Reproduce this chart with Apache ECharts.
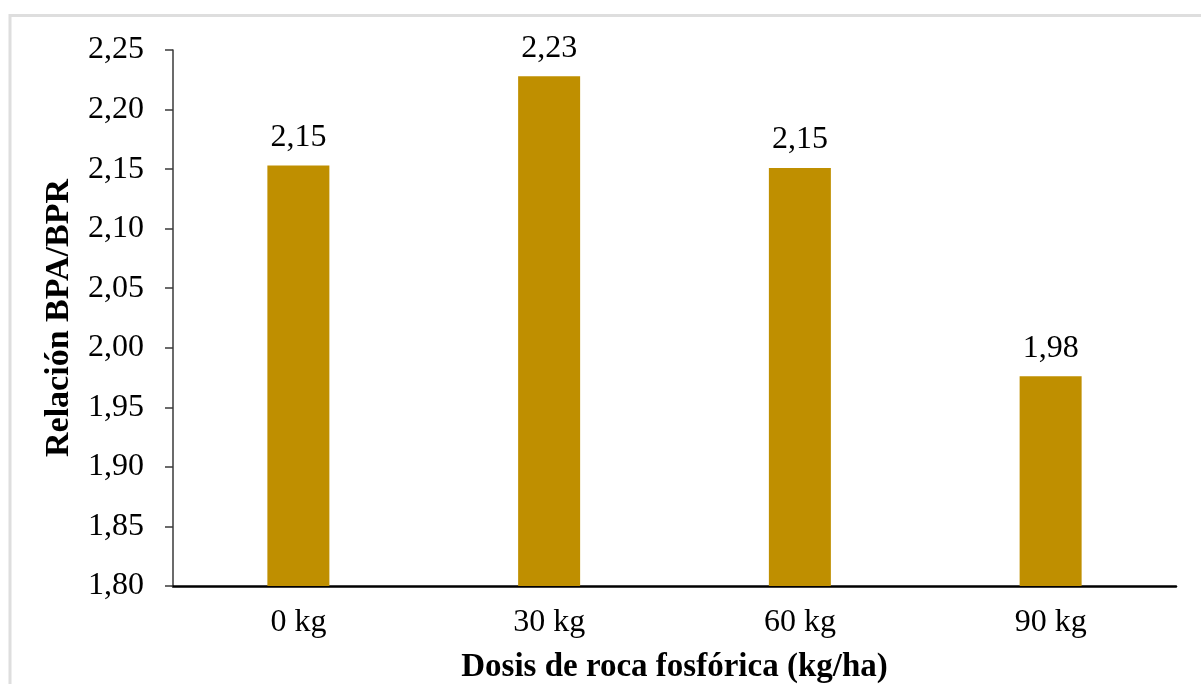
<!DOCTYPE html>
<html>
<head>
<meta charset="utf-8">
<script src="https://cdn.jsdelivr.net/npm/echarts@6/dist/echarts.min.js"></script>
<style>
html,body{margin:0;padding:0;background:#fff;overflow:hidden;}
#chart{width:1201px;height:684px;}
</style>
</head>
<body>
<div id="chart"></div>
<script>
const categories = ['0 kg', '30 kg', '60 kg', '90 kg'];
const values = [2.153, 2.228, 2.151, 1.976];
const yMin = 1.80, yMax = 2.25, yStep = 0.05;
const yTitle = 'Relación BPA/BPR';
const xTitle = 'Dosis de roca fosfórica (kg/ha)';

const fmt = v => v.toFixed(2).replace('.', ',');
const serif = '"Liberation Serif", "Times New Roman", serif';

const chart = echarts.init(document.getElementById('chart'), null, {renderer: 'canvas'});
chart.setOption({
  animation: false,
  backgroundColor: '#ffffff',
  graphic: [{
    type: 'rect',
    shape: {x: 10, y: 15.5, width: 1400, height: 900},
    style: {fill: 'none', stroke: '#dedede', lineWidth: 3},
    silent: true, z: -1
  }],
  grid: {left: 173, right: 25, top: 50, bottom: 98, containLabel: false, outerBoundsMode: 'none'},
  xAxis: {
    type: 'category',
    data: categories,
    name: xTitle,
    nameLocation: 'middle',
    nameGap: 65,
    nameTextStyle: {fontFamily: serif, fontWeight: 'bold', fontSize: 33, color: '#000'},
    axisLine: {lineStyle: {color: '#000', width: 2.5}},
    axisTick: {show: false},
    axisLabel: {fontFamily: serif, fontSize: 32, color: '#000', margin: 21}
  },
  yAxis: {
    type: 'value',
    min: yMin, max: yMax, interval: yStep,
    name: yTitle,
    nameLocation: 'middle',
    nameGap: 97,
    nameRotate: 90,
    nameTextStyle: {fontFamily: serif, fontWeight: 'bold', fontSize: 34, color: '#000'},
    axisLine: {show: true, lineStyle: {color: '#3a3a3a', width: 1.5}},
    axisTick: {show: true, inside: false, length: 8, lineStyle: {color: '#3a3a3a', width: 1.5}},
    splitLine: {show: false},
    axisLabel: {fontFamily: serif, fontSize: 32, color: '#000', margin: 29, formatter: v => fmt(v)}
  },
  series: [{
    type: 'bar',
    data: values,
    barWidth: 62,
    itemStyle: {color: '#BF8F00'},
    label: {
      show: true, position: 'top', distance: 12,
      fontFamily: serif, fontSize: 32, color: '#000',
      formatter: p => fmt(p.value)
    }
  }]
});
</script>
</body>
</html>
